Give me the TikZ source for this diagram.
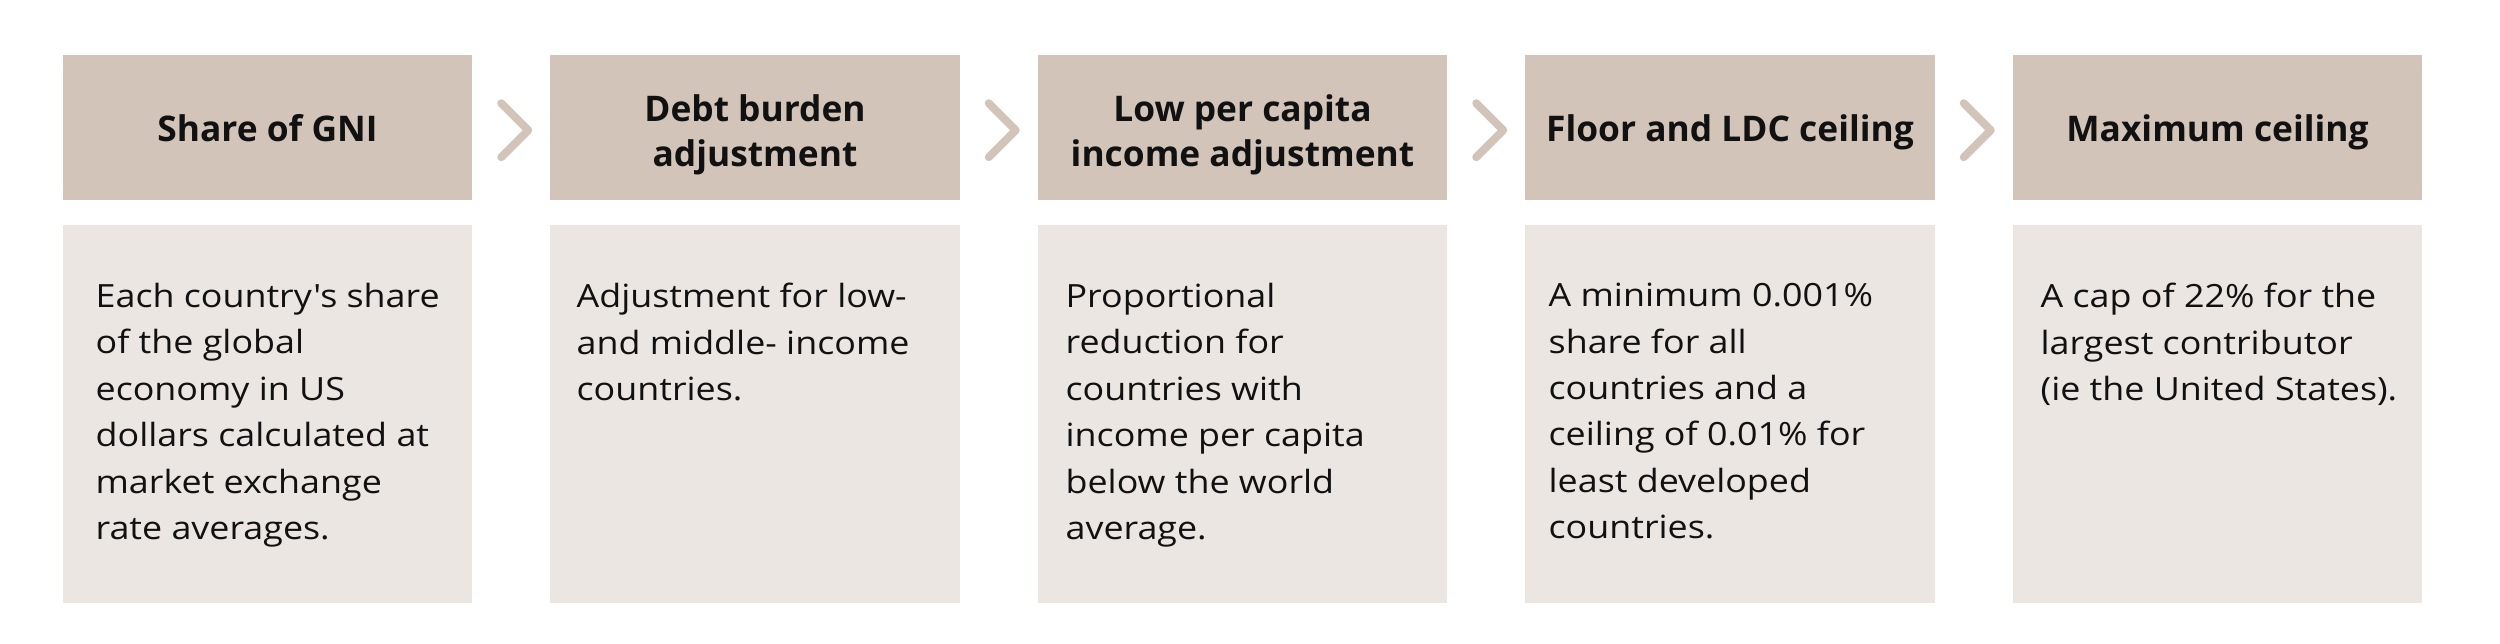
\documentclass[tikz,border=0pt]{standalone}
\usepackage{fontspec}
\setmainfont{Open Sans}
\newfontfamily\bodyfont{Open Sans}[FakeStretch=1.12, Ligatures=TeXOff]
\usetikzlibrary{calc}
\definecolor{hdrcol}{HTML}{D3C4BA}
\definecolor{bodycol}{HTML}{EBE6E2}
\definecolor{txtcol}{HTML}{111111}
\tikzset{
  hdrbox/.style={fill=hdrcol, draw=none, minimum width=122.85pt, minimum height=43.5pt, inner sep=0pt},
  hdrlbl/.style={inner sep=0pt, align=center, text=txtcol,
    font=\fontsize{10.6pt}{13.5pt}\selectfont\bfseries},
  bodybox/.style={fill=bodycol, draw=none, minimum width=122.85pt, minimum height=113.4pt, inner sep=0pt},
  bodytxt/.style={anchor=north west, inner sep=0pt, align=left, text=txtcol,
    font=\bodyfont\fontsize{9.6pt}{13.92pt}\selectfont},
  chev/.style={draw=hdrcol, line width=2.4pt, line cap=round, line join=round}
}
\begin{document}
\begin{tikzpicture}[x=0.3pt,y=-0.3pt]
\useasboundingbox (0,0) rectangle (2500,644);
% header boxes
\node[hdrbox] (h1) at (267.5,127.2) {};
\node[hdrbox] (h2) at (755,127.2) {};
\node[hdrbox] (h3) at (1242.5,127.2) {};
\node[hdrbox] (h4) at (1730,127.2) {};
\node[hdrbox] (h5) at (2217.5,127.2) {};
% header labels
\node[hdrlbl, anchor=base] (l1) at (267.5,141) {Share of GNI};
\node[hdrlbl] (l2) at (755,134.5) {Debt burden\\adjustment};
\node[hdrlbl] (l3) at (1242.5,134.5) {Low per capita\\income adjustment};
\node[hdrlbl, anchor=base] (l4) at (1730,141) {Floor and LDC ceiling};
\node[hdrlbl, anchor=base] (l5) at (2217.5,141) {Maximum ceiling};
% body boxes
\node[bodybox] (b1) at (267.5,414) {};
\node[bodybox] (b2) at (755,414) {};
\node[bodybox] (b3) at (1242.5,414) {};
\node[bodybox] (b4) at (1730,414) {};
\node[bodybox] (b5) at (2217.5,414) {};
% body texts
\node[bodytxt] (t1) at (95,282.5) {Each country's share\\of the global\\economy in US\\dollars calculated at\\market exchange\\rate averages.};
\node[bodytxt] (t2) at (576,282.5) {Adjustment for low-\\and middle- income\\countries.};
\node[bodytxt] (t3) at (1065,282.5) {Proportional\\reduction for\\countries with\\income per capita\\below the world\\average.};
\node[bodytxt] (t4) at (1548,282.5) {A minimum 0.001\%\\share for all\\countries and a\\ceiling of 0.01\% for\\least developed\\countries.};
\node[bodytxt] (t5) at (2040,282.5) {A cap of 22\% for the\\largest contributor\\(ie the United States).};
% chevrons
\foreach \a/\b in {h1/h2,h2/h3,h3/h4,h4/h5}{
  \coordinate (m) at ($(\a.east)!0.5!(\b.west)+(3.5,3)$);
  \draw[chev] ([shift={(-13.5,-27)}]m) -- ([shift={(13.5,0)}]m) -- ([shift={(-13.5,27)}]m);
}
\end{tikzpicture}
\end{document}
